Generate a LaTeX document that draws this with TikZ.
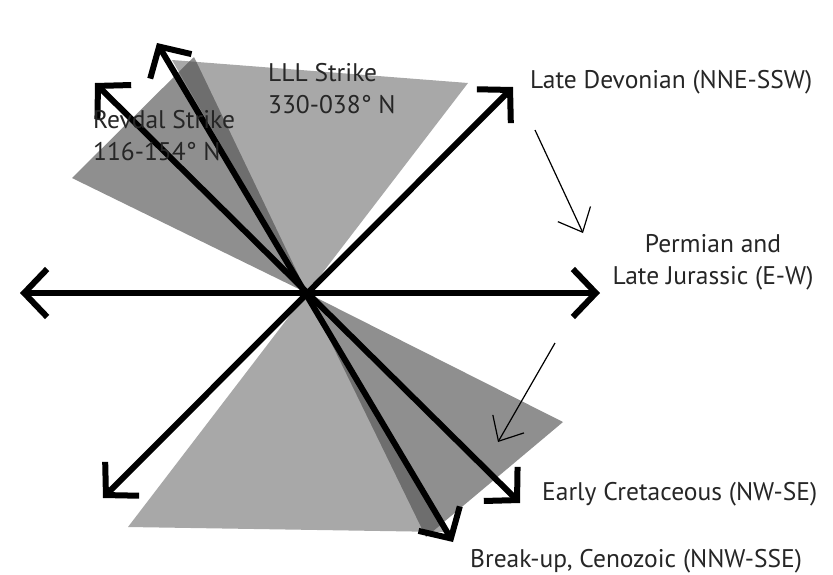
\documentclass[tikz,border=0pt]{standalone}
\usepackage{fontspec}
\setmainfont{PT Sans}
\usetikzlibrary{arrows.meta}
\begin{document}
\begin{tikzpicture}[x=1pt,y=-1pt,
  bigtip/.tip={Straight Barb[length=23pt,width=48pt]},
  axis/.style={line width=6pt,{bigtip}-{bigtip}},
  trend/.style={line width=1.2pt,-{Straight Barb[length=20pt,width=36pt]}},
  lll/.style={fill=black!34},
  revdal/.style={fill=black!44},
  both/.style={fill=black!57},
  label/.style={text=black!85,font=\fontsize{25.5}{32}\selectfont,inner sep=0pt},
]
\useasboundingbox (0,0) rectangle (833,574);
\fill[white] (0,0) rectangle (833,574);

% centre of the rose
\coordinate (O) at (307,293);

% strike sectors
\coordinate (L1) at (172,60);  \coordinate (L2) at (468,83);
\coordinate (L3) at (444,532); \coordinate (L4) at (128,527);
\coordinate (R1) at (72,178);  \coordinate (R2) at (194,57);
\coordinate (R3) at (563,422); \coordinate (R4) at (426,537);

\path[lll] (O) -- (L1) -- (L2) -- cycle;
\path[lll] (O) -- (L3) -- (L4) -- cycle;
\path[revdal] (O) -- (R1) -- (R2) -- cycle;
\path[revdal] (O) -- (R3) -- (R4) -- cycle;
% where the two sectors overlap
\begin{scope}
  \clip (O) -- (L1) -- (L2) -- cycle;
  \path[both] (O) -- (R1) -- (R2) -- cycle;
\end{scope}
\begin{scope}
  \clip (O) -- (L3) -- (L4) -- cycle;
  \path[both] (O) -- (R3) -- (R4) -- cycle;
\end{scope}

% stress directions
\coordinate (W)   at (20,293);  \coordinate (E)   at (600,293);
\coordinate (NE)  at (513,87);  \coordinate (SW)  at (103,498);
\coordinate (NW)  at (95,83);   \coordinate (SE)  at (520,503);
\coordinate (NNW) at (157,43);  \coordinate (SSE) at (453,542);

\draw[axis] (W) -- (E);
\draw[axis] (SW) -- (NE);
\draw[axis] (NW) -- (SE);
\draw[axis] (NNW) -- (SSE);

% sequence of stress rotation
\coordinate (t1a) at (535,130); \coordinate (t1b) at (583,233);
\coordinate (t2a) at (555,343); \coordinate (t2b) at (498,442);
\draw[trend] (t1a) -- (t1b);
\draw[trend] (t2a) -- (t2b);

% labels
\node[label,anchor=base west] (dev) at (530,88) {Late Devonian (NNE-SSW)};
\node[label,anchor=base,align=center] (perm) at (713,284) {Permian and\\Late Jurassic (E-W)};
\node[label,anchor=base west] (cret) at (542,500) {Early Cretaceous (NW-SE)};
\node[label,anchor=base west] (ceno) at (470,567) {Break-up, Cenozoic (NNW-SSE)};
\node[label,anchor=base west,align=left] (lllt) at (268,113) {LLL Strike\\330-038° N};
\node[label,anchor=base west,align=left] (revt) at (93,160) {Revdal Strike\\116-154° N};
\end{tikzpicture}
\end{document}
